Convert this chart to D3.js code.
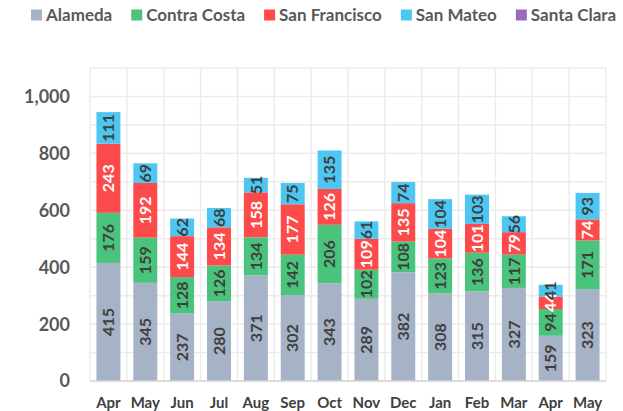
<!DOCTYPE html>
<html>
<head>
<meta charset="utf-8">
<script src="https://cdn.jsdelivr.net/npm/d3@7"></script>
<style>
  body { margin: 0; background: #fff; }
  svg text { font-family: Lato, "Open Sans", sans-serif; font-weight: bold; }
</style>
</head>
<body>
<svg id="canvas" width="623" height="411"></svg>
<script>
'use strict';

// categories and series
var months = ['Apr', 'May', 'Jun', 'Jul', 'Aug', 'Sep', 'Oct', 'Nov', 'Dec', 'Jan', 'Feb', 'Mar', 'Apr', 'May'];
var seriesNames = ['Alameda', 'Contra Costa', 'San Francisco', 'San Mateo', 'Santa Clara'];
var alameda     = [415, 345, 237, 280, 371, 302, 343, 289, 382, 308, 315, 327, 159, 323];
var contraCosta = [176, 159, 128, 126, 134, 142, 206, 102, 108, 123, 136, 117, 94, 171];
var sanFrancisco = [243, 192, 144, 134, 158, 177, 126, 109, 135, 104, 101, 79, 44, 74];
var sanMateo    = [111, 69, 62, 68, 51, 75, 135, 61, 74, 104, 103, 56, 41, 93];
var santaClara  = [0, 0, 0, 0, 0, 0, 0, 0, 0, 0, 0, 0, 0, 0];
var yTicks = [0, 200, 400, 600, 800, 1000];

var colors = ['#a6b2c5', '#4ac37c', '#fd4a4a', '#4dc6f2', '#9b69bd'];
var labelColors = ['#3f3f3f', '#3f3f3f', '#ffffff', '#3f3f3f', '#ffffff'];

// plot area
var margin = {top: 68, right: 17, bottom: 30, left: 90};
var width = 623, height = 411;

var svg = d3.select('svg#canvas');

/* build rows for the stack from the named arrays */
var allSeries = [alameda, contraCosta, sanFrancisco, sanMateo, santaClara];
var rows = months.map(function(m, i){
  var r = {idx: i};
  seriesNames.forEach(function(s, j){ r[s] = allSeries[j][i]; });
  return r;
});
var stacked = d3.stack().keys(seriesNames)(rows);

var x = d3.scaleBand()
  .domain(d3.range(months.length))
  .range([margin.left, width - margin.right])
  .paddingInner(0.35)
  .paddingOuter(0.175);

var y = d3.scaleLinear()
  .domain([0, 1100])
  .range([height - margin.bottom, margin.top]);

/* grid */
var grid = svg.append('g').attr('id', 'grid');
grid.selectAll('line.h')
  .data(d3.range(0, 1101, 100))
  .join('line')
    .attr('x1', margin.left).attr('x2', width - margin.right)
    .attr('y1', function(d){ return y(d); }).attr('y2', function(d){ return y(d); })
    .attr('stroke', '#ebebeb').attr('stroke-width', 1.5);
var step = x.step();
grid.selectAll('line.v')
  .data(d3.range(months.length + 1))
  .join('line')
    .attr('x1', function(i){ return margin.left + i*step; })
    .attr('x2', function(i){ return margin.left + i*step; })
    .attr('y1', y(1100)).attr('y2', y(0))
    .attr('stroke', '#ebebeb').attr('stroke-width', 1.5);

/* bars */
var layers = svg.append('g').attr('id', 'bars')
  .selectAll('g')
  .data(stacked)
  .join('g')
    .attr('fill', function(d, i){ return colors[i]; });

layers.selectAll('rect')
  .data(function(d){ return d; })
  .join('rect')
    .attr('x', function(d){ return x(d.data.idx); })
    .attr('width', x.bandwidth())
    .attr('y', function(d){ return y(d[1]); })
    .attr('height', function(d){ return y(d[0]) - y(d[1]); });

/* bottom axis line */
svg.append('line')
  .attr('x1', margin.left).attr('x2', width - margin.right)
  .attr('y1', y(0)).attr('y2', y(0))
  .attr('stroke', '#d4d4d4').attr('stroke-width', 1.5);

/* value labels, rotated */
svg.append('g').attr('id', 'labels')
  .selectAll('g')
  .data(stacked)
  .join('g')
    .attr('fill', function(d, i){ return labelColors[i]; })
  .selectAll('text')
  .data(function(d){ return d.filter(function(p){ return p[1] - p[0] > 0; }); })
  .join('text')
    .attr('transform', function(d){
      var cx = x(d.data.idx) + x.bandwidth()/2;
      var cy = (y(d[0]) + y(d[1]))/2;
      return 'translate(' + cx + ',' + cy + ') rotate(-90)';
    })
    .attr('text-anchor', 'middle')
    .attr('dy', '0.36em')
    .style('font-size', '16px')
    .text(function(d){ return d[1] - d[0]; });

/* y axis labels */
svg.append('g').attr('id', 'left-axis')
  .selectAll('text')
  .data(yTicks)
  .join('text')
    .attr('x', 70)
    .attr('y', function(d){ return y(d); })
    .attr('dy', '0.36em')
    .attr('text-anchor', 'end')
    .attr('fill', '#595959')
    .style('font-size', '18px')
    .text(d3.format(','));

/* x axis labels */
svg.append('g').attr('id', 'bottom-axis')
  .selectAll('text')
  .data(months)
  .join('text')
    .attr('x', function(d, i){ return x(i) + x.bandwidth()/2; })
    .attr('y', 408)
    .attr('text-anchor', 'middle')
    .attr('fill', '#404040')
    .style('font-size', '15px')
    .text(function(d){ return d; });

/* legend */
var legend = svg.append('g').attr('id', 'legend');
var lx = 31;
seriesNames.forEach(function(name, i){
  var g = legend.append('g').attr('transform', 'translate(' + lx + ',0)');
  g.append('rect')
    .attr('x', 0).attr('y', 9.5).attr('width', 11).attr('height', 11)
    .attr('fill', colors[i]);
  var t = g.append('text')
    .attr('x', 15).attr('y', 15).attr('dy', '0.36em')
    .attr('fill', '#595959')
    .style('font-size', '17px')
    .text(name);
  lx += 15 + t.node().getComputedTextLength() + 19;
});
</script>
</body>
</html>
